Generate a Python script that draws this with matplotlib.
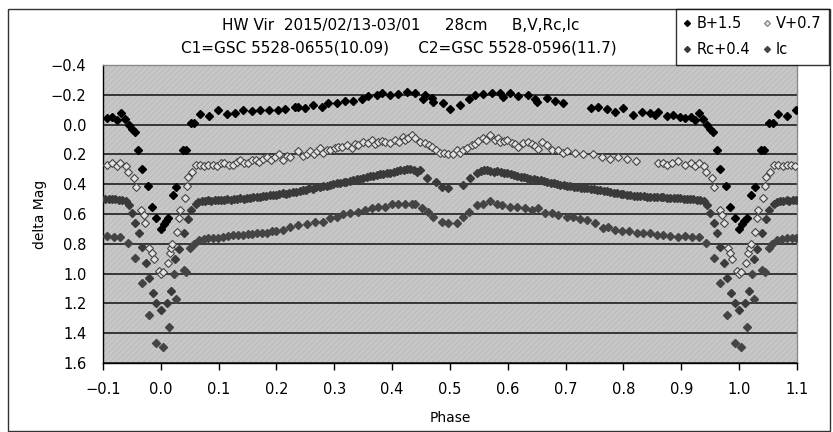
import numpy as np
import matplotlib
matplotlib.use("Agg")
import matplotlib.pyplot as plt
from matplotlib.patches import Rectangle
from matplotlib.lines import Line2D

# 位相 0..1 で読み取った値 (グラフでは -0.1..1.1 に折り返して表示)
b_phase = [0.000, 0.005, 0.009, 0.013, 0.021, 0.027, 0.038, 0.043, 0.052, 0.058,
           0.067, 0.083, 0.098, 0.114, 0.128, 0.142, 0.158, 0.172, 0.187, 0.203,
           0.215, 0.232, 0.237, 0.250, 0.263, 0.279, 0.289, 0.305, 0.319, 0.333,
           0.348, 0.358, 0.374, 0.383, 0.397, 0.410, 0.426, 0.440, 0.454, 0.457,
           0.469, 0.471, 0.488, 0.500, 0.518, 0.532, 0.544, 0.557, 0.573, 0.587,
           0.592, 0.604, 0.618, 0.635, 0.647, 0.651, 0.668, 0.682, 0.696, 0.743,
           0.756, 0.772, 0.786, 0.800, 0.817, 0.832, 0.846, 0.855, 0.860, 0.876,
           0.886, 0.898, 0.907, 0.916, 0.924, 0.931, 0.938, 0.945, 0.950, 0.955,
           0.961, 0.967, 0.978, 0.985, 0.992]
b_mag = [0.70, 0.67, 0.65, 0.63, 0.47, 0.42, 0.17, 0.17, -0.01, -0.01,
         -0.07, -0.06, -0.10, -0.07, -0.08, -0.10, -0.09, -0.10, -0.10, -0.10,
         -0.105, -0.12, -0.12, -0.11, -0.13, -0.12, -0.145, -0.145, -0.16, -0.16,
         -0.17, -0.19, -0.20, -0.21, -0.20, -0.205, -0.22, -0.21, -0.17, -0.20,
         -0.18, -0.15, -0.145, -0.105, -0.13, -0.17, -0.20, -0.205, -0.21, -0.21,
         -0.185, -0.21, -0.19, -0.20, -0.17, -0.15, -0.18, -0.16, -0.145, -0.11,
         -0.12, -0.105, -0.085, -0.11, -0.065, -0.085, -0.08, -0.065, -0.085, -0.06,
         -0.065, -0.05, -0.045, -0.05, -0.03, -0.08, -0.04, 0.005, 0.03, 0.05,
         0.17, 0.30, 0.41, 0.55, 0.63]

v_phase = [0.000, 0.004, 0.012, 0.016, 0.018, 0.020, 0.028, 0.031, 0.033, 0.042,
           0.045, 0.047, 0.054, 0.061, 0.068, 0.075, 0.082, 0.090, 0.097, 0.104,
           0.110, 0.118, 0.124, 0.131, 0.137, 0.143, 0.150, 0.157, 0.164, 0.170,
           0.177, 0.184, 0.191, 0.198, 0.205, 0.211, 0.218, 0.224, 0.237, 0.245,
           0.253, 0.258, 0.264, 0.270, 0.276, 0.281, 0.287, 0.293, 0.301, 0.307,
           0.313, 0.322, 0.331, 0.336, 0.341, 0.350, 0.359, 0.365, 0.371, 0.376,
           0.382, 0.388, 0.397, 0.405, 0.412, 0.419, 0.422, 0.428, 0.435, 0.440,
           0.448, 0.457, 0.463, 0.469, 0.476, 0.483, 0.490, 0.497, 0.506, 0.512,
           0.517, 0.523, 0.530, 0.538, 0.543, 0.549, 0.557, 0.563, 0.570, 0.578,
           0.583, 0.587, 0.593, 0.599, 0.608, 0.613, 0.618, 0.627, 0.635, 0.641,
           0.647, 0.653, 0.659, 0.668, 0.677, 0.687, 0.695, 0.703, 0.717, 0.730,
           0.748, 0.763, 0.777, 0.791, 0.806, 0.822, 0.860, 0.868, 0.876, 0.884,
           0.895, 0.907, 0.916, 0.924, 0.930, 0.940, 0.943, 0.953, 0.957, 0.966,
           0.971, 0.973, 0.980, 0.985, 0.988, 0.997]
v_mag = [1.00, 0.99, 0.93, 0.86, 0.83, 0.80, 0.72, 0.63, 0.57, 0.49,
         0.41, 0.35, 0.32, 0.27, 0.27, 0.28, 0.27, 0.27, 0.28, 0.26,
         0.26, 0.27, 0.27, 0.25, 0.24, 0.26, 0.26, 0.24, 0.24, 0.25,
         0.23, 0.22, 0.24, 0.22, 0.20, 0.24, 0.21, 0.22, 0.18, 0.21,
         0.20, 0.18, 0.20, 0.18, 0.16, 0.19, 0.17, 0.17, 0.16, 0.15,
         0.15, 0.14, 0.16, 0.13, 0.14, 0.12, 0.125, 0.10, 0.13, 0.115,
         0.11, 0.115, 0.125, 0.10, 0.12, 0.08, 0.10, 0.09, 0.07, 0.09,
         0.12, 0.125, 0.14, 0.15, 0.17, 0.19, 0.19, 0.20, 0.195, 0.17,
         0.19, 0.17, 0.16, 0.14, 0.13, 0.11, 0.09, 0.10, 0.07, 0.10,
         0.09, 0.115, 0.11, 0.10, 0.125, 0.13, 0.15, 0.125, 0.115, 0.13,
         0.145, 0.165, 0.115, 0.14, 0.17, 0.17, 0.19, 0.18, 0.19, 0.195,
         0.20, 0.215, 0.23, 0.215, 0.23, 0.245, 0.26, 0.255, 0.27, 0.26,
         0.245, 0.27, 0.26, 0.28, 0.26, 0.28, 0.32, 0.36, 0.42, 0.57,
         0.61, 0.66, 0.83, 0.86, 0.90, 0.98]

rc_phase = [0.000, 0.010, 0.017, 0.025, 0.031, 0.040, 0.047, 0.052, 0.060, 0.065,
            0.071, 0.076, 0.082, 0.087, 0.093, 0.098, 0.104, 0.109, 0.115, 0.121,
            0.126, 0.132, 0.137, 0.143, 0.149, 0.154, 0.160, 0.166, 0.171, 0.177,
            0.182, 0.188, 0.194, 0.199, 0.205, 0.211, 0.216, 0.222, 0.228, 0.234,
            0.240, 0.245, 0.251, 0.257, 0.263, 0.269, 0.275, 0.281, 0.287, 0.292,
            0.298, 0.304, 0.310, 0.316, 0.321, 0.327, 0.333, 0.339, 0.344, 0.350,
            0.356, 0.362, 0.367, 0.373, 0.379, 0.385, 0.391, 0.397, 0.403, 0.408,
            0.414, 0.420, 0.426, 0.431, 0.437, 0.443, 0.448, 0.460, 0.475, 0.486,
            0.497, 0.523, 0.535, 0.547, 0.553, 0.558, 0.564, 0.570, 0.576, 0.582,
            0.588, 0.593, 0.599, 0.605, 0.611, 0.616, 0.622, 0.628, 0.634, 0.639,
            0.645, 0.651, 0.657, 0.662, 0.668, 0.674, 0.680, 0.685, 0.691, 0.697,
            0.703, 0.708, 0.714, 0.720, 0.726, 0.731, 0.737, 0.743, 0.749, 0.754,
            0.760, 0.766, 0.772, 0.777, 0.783, 0.789, 0.795, 0.800, 0.806, 0.812,
            0.818, 0.823, 0.829, 0.835, 0.841, 0.846, 0.852, 0.858, 0.864, 0.869,
            0.875, 0.881, 0.887, 0.892, 0.898, 0.904, 0.910, 0.915, 0.921, 0.927,
            0.933, 0.939, 0.945, 0.950, 0.956, 0.962, 0.967, 0.974, 0.979, 0.986,
            0.992]
rc_mag = [1.244, 1.194, 1.120, 0.904, 0.837, 0.725, 0.636, 0.573, 0.533, 0.520,
          0.515, 0.512, 0.508, 0.512, 0.505, 0.508, 0.503, 0.506, 0.500, 0.503,
          0.498, 0.500, 0.494, 0.496, 0.490, 0.492, 0.486, 0.483, 0.485, 0.478,
          0.480, 0.474, 0.470, 0.472, 0.466, 0.461, 0.463, 0.456, 0.453, 0.450,
          0.446, 0.440, 0.436, 0.428, 0.430, 0.422, 0.418, 0.413, 0.410, 0.404,
          0.400, 0.394, 0.390, 0.386, 0.382, 0.376, 0.372, 0.368, 0.364, 0.361,
          0.354, 0.348, 0.344, 0.338, 0.334, 0.330, 0.326, 0.323, 0.318, 0.312,
          0.305, 0.303, 0.300, 0.300, 0.306, 0.316, 0.305, 0.361, 0.383, 0.416,
          0.428, 0.405, 0.361, 0.327, 0.312, 0.305, 0.306, 0.310, 0.316, 0.312,
          0.320, 0.322, 0.327, 0.333, 0.338, 0.342, 0.350, 0.352, 0.358, 0.362,
          0.367, 0.370, 0.374, 0.378, 0.383, 0.390, 0.394, 0.400, 0.405, 0.407,
          0.410, 0.414, 0.416, 0.420, 0.423, 0.426, 0.428, 0.432, 0.434, 0.437,
          0.439, 0.443, 0.447, 0.452, 0.456, 0.460, 0.464, 0.467, 0.472, 0.474,
          0.477, 0.479, 0.480, 0.482, 0.483, 0.485, 0.485, 0.487, 0.488, 0.489,
          0.490, 0.492, 0.493, 0.494, 0.495, 0.497, 0.498, 0.500, 0.500, 0.503,
          0.505, 0.510, 0.540, 0.591, 0.658, 0.725, 0.819, 0.931, 1.032, 1.128,
          1.195]

ic_phase = [0.003, 0.014, 0.022, 0.026, 0.040, 0.044, 0.051, 0.057, 0.066, 0.074,
            0.082, 0.091, 0.099, 0.108, 0.116, 0.125, 0.133, 0.142, 0.150, 0.158,
            0.167, 0.175, 0.183, 0.192, 0.200, 0.211, 0.224, 0.237, 0.253, 0.267,
            0.281, 0.293, 0.305, 0.315, 0.327, 0.341, 0.353, 0.365, 0.376, 0.388,
            0.400, 0.410, 0.422, 0.435, 0.440, 0.452, 0.462, 0.471, 0.486, 0.497,
            0.512, 0.523, 0.532, 0.547, 0.557, 0.570, 0.581, 0.590, 0.604, 0.616,
            0.630, 0.642, 0.653, 0.665, 0.677, 0.687, 0.703, 0.713, 0.725, 0.737,
            0.751, 0.765, 0.774, 0.786, 0.798, 0.810, 0.824, 0.834, 0.846, 0.858,
            0.869, 0.881, 0.895, 0.907, 0.919, 0.930, 0.943, 0.956, 0.967, 0.979,
            0.992]
ic_mag = [1.490, 1.356, 1.000, 1.173, 0.976, 0.990, 0.831, 0.800, 0.775, 0.768,
          0.763, 0.760, 0.758, 0.752, 0.750, 0.741, 0.744, 0.738, 0.735, 0.732,
          0.728, 0.726, 0.726, 0.716, 0.712, 0.707, 0.690, 0.675, 0.670, 0.655,
          0.655, 0.630, 0.620, 0.600, 0.595, 0.585, 0.575, 0.560, 0.550, 0.555,
          0.535, 0.535, 0.530, 0.530, 0.530, 0.560, 0.585, 0.620, 0.655, 0.660,
          0.660, 0.620, 0.585, 0.540, 0.530, 0.510, 0.530, 0.540, 0.550, 0.555,
          0.560, 0.575, 0.560, 0.595, 0.595, 0.605, 0.620, 0.620, 0.635, 0.640,
          0.660, 0.695, 0.690, 0.710, 0.715, 0.715, 0.725, 0.730, 0.730, 0.740,
          0.740, 0.745, 0.755, 0.750, 0.755, 0.755, 0.793, 0.898, 1.061, 1.278,
          1.464]

x_ticks = [-0.1, 0.0, 0.1, 0.2, 0.3, 0.4, 0.5, 0.6, 0.7, 0.8, 0.9, 1.0, 1.1]
y_ticks = [-0.4, -0.2, 0.0, 0.2, 0.4, 0.6, 0.8, 1.0, 1.2, 1.4, 1.6]

title1 = "HW Vir  2015/02/13-03/01     28cm     B,V,Rc,Ic"
title2 = "C1=GSC 5528-0655(10.09)      C2=GSC 5528-0596(11.7)"


# 位相の折り返し (0.9以上は -1, 0.1以下は +1 にも描く)
def wrap(ph, mag):
    ph = np.array(ph)
    mag = np.array(mag)
    lo = ph >= 0.9
    hi = ph <= 0.1
    return (np.concatenate([ph[lo] - 1, ph, ph[hi] + 1]),
            np.concatenate([mag[lo], mag, mag[hi]]))


def fmt(t):
    return f"{t:.1f}".replace('-', '\u2212')


plt.rcParams['font.family'] = ['DejaVu Sans']
plt.rcParams['hatch.linewidth'] = 0.5

W, H = 833, 432
fig = plt.figure(figsize=(W / 100, H / 100), dpi=100)
ax = fig.add_axes([103 / W, 69 / H, 694 / W, 298 / H])

# 背景 (Excelのテクスチャ風)
ax.set_facecolor('#c7c7c7')
ax.add_patch(Rectangle((0, 0), 1, 1, transform=ax.transAxes, facecolor='none',
                       edgecolor='#b6b6b6', hatch='//////', linewidth=0, zorder=0))

ms = 4.3
x, y = wrap(b_phase, b_mag)
ax.plot(x, y, 'D', ms=ms, color='black', zorder=5)
x, y = wrap(v_phase, v_mag)
ax.plot(x, y, 'D', ms=ms, mfc='#e2e2e2', mec='#454545', mew=0.8, zorder=4)
x, y = wrap(rc_phase, rc_mag)
ax.plot(x, y, 'D', ms=ms, color='#3a3a3a', zorder=3)
x, y = wrap(ic_phase, ic_mag)
ax.plot(x, y, 'D', ms=ms, color='#444444', zorder=3)

ax.set_xlim(-0.1, 1.1)
ax.set_ylim(1.6, -0.4)
ax.set_xticks(x_ticks)
ax.set_xticklabels([fmt(t) for t in x_ticks])
ax.set_yticks(y_ticks)
ax.set_yticklabels([fmt(t) for t in y_ticks])
ax.yaxis.grid(True, color='#1e1e1e', linewidth=1.2, zorder=1)
ax.set_axisbelow(True)

ax.tick_params(axis='x', direction='out', length=5, width=1, pad=9, labelsize=10.5)
ax.tick_params(axis='y', length=0, pad=12, labelsize=10.5)
for s in ['left', 'bottom']:
    ax.spines[s].set_color('black')
    ax.spines[s].set_linewidth(1.0)
for s in ['top', 'right']:
    ax.spines[s].set_color('#8a8a8a')
    ax.spines[s].set_linewidth(1.0)

fig.text(40 / W, 1 - 214 / H, "delta Mag", rotation=90, ha='center', va='center', fontsize=10)
fig.text(450 / W, 1 - 418 / H, "Phase", ha='center', va='center', fontsize=10)

fig.text(401 / W, 1 - 26 / H, title1, ha='center', va='center', fontsize=11)
fig.text(399 / W, 1 - 48 / H, title2, ha='center', va='center', fontsize=11)

# 凡例
handles = [
    Line2D([], [], ls='', marker='D', ms=3, color='black'),
    Line2D([], [], ls='', marker='D', ms=3, color='#3a3a3a'),
    Line2D([], [], ls='', marker='D', ms=3, mfc='#e2e2e2', mec='#777777', mew=0.8),
    Line2D([], [], ls='', marker='D', ms=3, color='#444444'),
]
labels = ["B+1.5", "Rc+0.4", "V+0.7", "Ic"]
leg = fig.legend(handles, labels, ncol=2, loc='upper right',
                 bbox_to_anchor=(829 / W, 1 - 9 / H), frameon=True, fancybox=False,
                 fontsize=10.5, handlelength=0.6, handletextpad=0.3, columnspacing=0.9,
                 borderpad=0.5, labelspacing=0.75, borderaxespad=0)
leg.get_frame().set_edgecolor('black')
leg.get_frame().set_linewidth(1.0)

# 外枠
fig.add_artist(Rectangle((8 / W, 1 / H), 822 / W, 422 / H, transform=fig.transFigure,
                         fill=False, edgecolor='#333333', linewidth=1.0))

fig.savefig("out.png", dpi=100)
